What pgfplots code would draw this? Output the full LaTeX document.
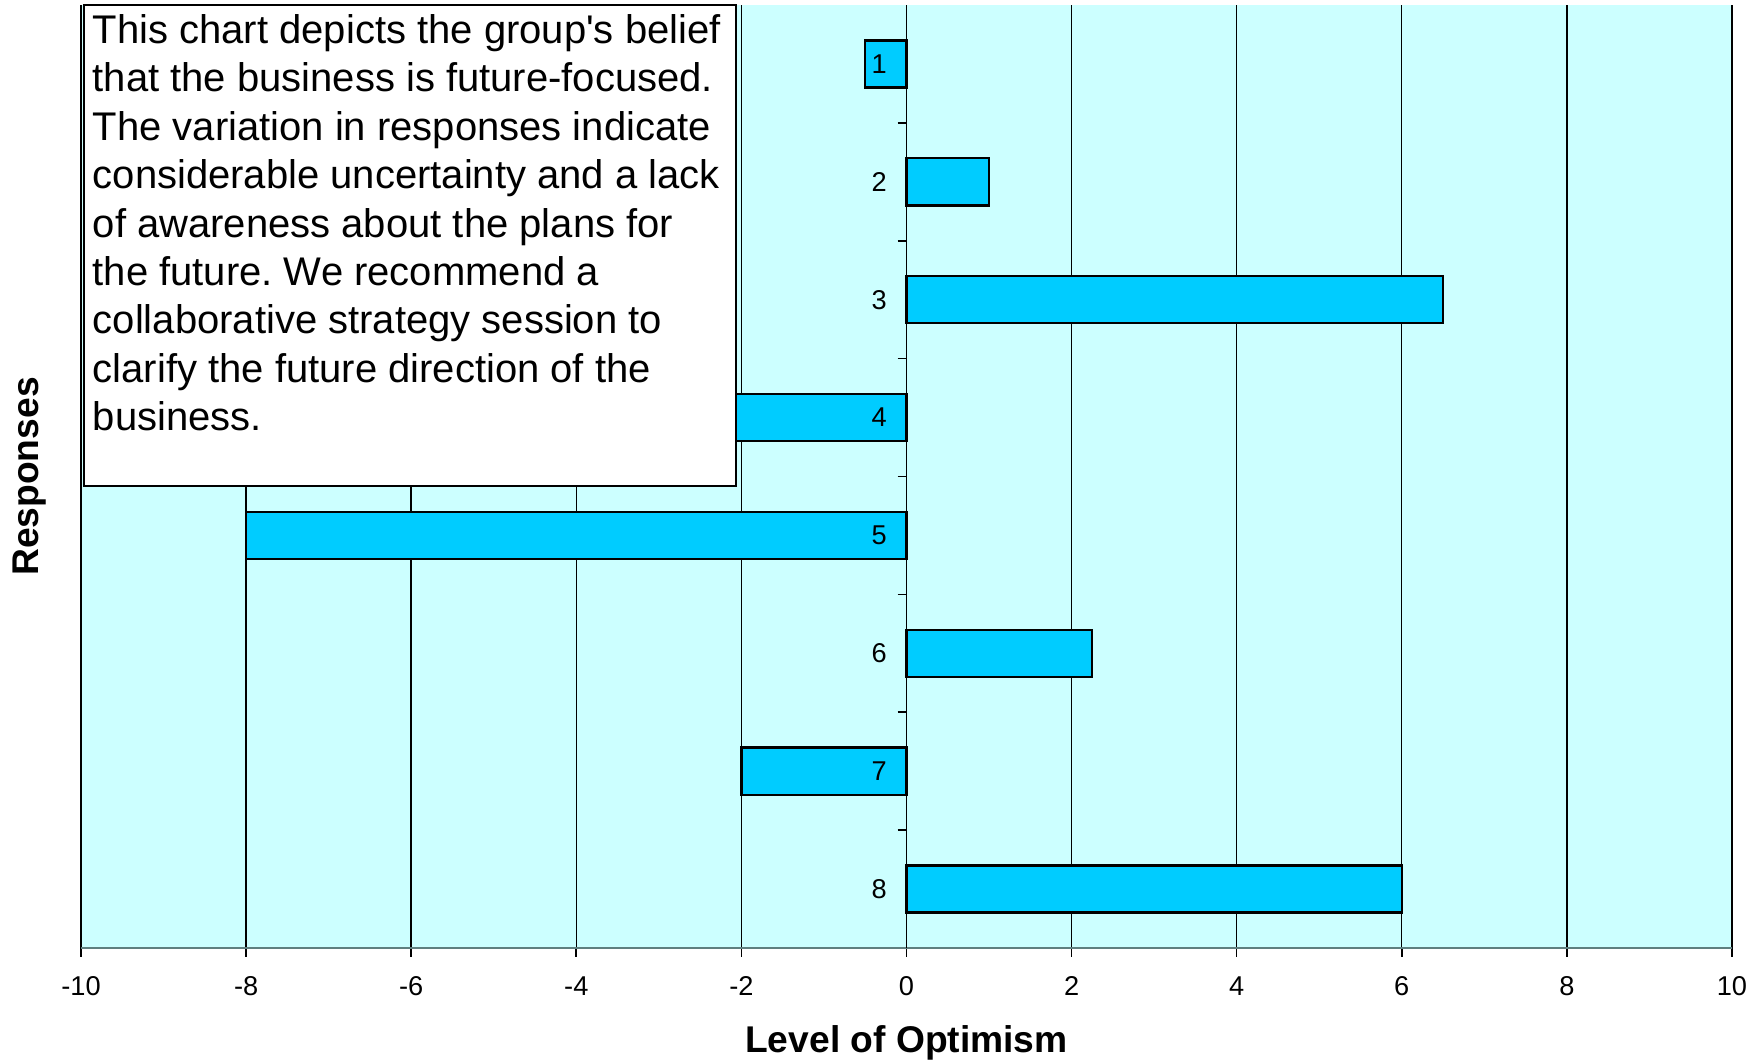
\documentclass[border=0pt]{standalone}
\usepackage{fontspec}
\setmainfont{Liberation Sans}
\usepackage{pgfplots}
\pgfplotsset{compat=1.18}
\definecolor{plotbg}{HTML}{CCFFFF}
\definecolor{barfill}{HTML}{00CCFF}
\definecolor{axisgray}{HTML}{5F7F7F}

% same as the standard layer set, but tick labels go above the bars
\pgfplotsset{
  layers/labelsontop/.define layer set={
    axis background,axis grid,axis ticks,axis lines,
    pre main,main,axis tick labels,axis descriptions,axis foreground
  }{
    grid style={/pgfplots/on layer=axis grid},
    tick style={/pgfplots/on layer=axis ticks},
    axis line style={/pgfplots/on layer=axis lines},
    label style={/pgfplots/on layer=axis descriptions},
    legend style={/pgfplots/on layer=axis descriptions},
    title style={/pgfplots/on layer=axis descriptions},
    colorbar style={/pgfplots/on layer=axis descriptions},
    ticklabel style={/pgfplots/on layer=axis tick labels},
    axis background@ style={/pgfplots/on layer=axis background},
    3d box foreground style={/pgfplots/on layer=axis foreground},
  },
}

\begin{document}
\frenchspacing
\begin{tikzpicture}
\begin{axis}[
  set layers=labelsontop,
  at={(0,0)}, anchor=south west,
  scale only axis, width=412.75pt, height=235.75pt,
  xmin=-10, xmax=10, ymin=0.5, ymax=8.5, y dir=reverse,
  axis x line*=bottom, axis y line*=middle,
  x axis line style={draw=axisgray, line width=0.7pt},
  y axis line style={draw=black, line width=0.4pt},
  hide obscured x ticks=false,
  axis background/.style={fill=plotbg},
  xtick={-10,-8,...,10},
  xticklabels={-10,-8,-6,-4,-2,0,2,4,6,8,10},
  xmajorgrids, grid style={black, line width=0.35pt},
  ytick={1.5,2.5,...,7.5}, yticklabels={},
  extra y ticks={1,2,3,4,5,6,7,8},
  extra y tick labels={1,2,3,4,5,6,7,8},
  extra y tick style={major tick length=0pt},
  tick align=outside, major tick length=2.2pt,
  tick style={black, line width=0.4pt},
  tick label style={font=\fontsize{6.8}{8}\selectfont},
  xticklabel style={yshift=-1.4pt},
  yticklabel style={xshift=-1.4pt},
  xlabel={Level of Optimism},
  ylabel={Responses},
  every axis x label/.style={at={(axis description cs:0.5,0)}, anchor=base,
    yshift=-26.25pt, font=\fontsize{9.3}{11}\selectfont\bfseries},
  every axis y label/.style={at={(axis description cs:0,0.5)}, anchor=center,
    xshift=-12.9pt, rotate=90, font=\fontsize{9.3}{11}\selectfont\bfseries},
  xbar, bar width=0.4,
]
\addplot[fill=barfill, draw=black, line width=0.6pt] coordinates {
  (-0.5,1) (1,2) (6.5,3) (-3,4) (-8,5) (2.25,6) (-2,7) (6,8)
};
\end{axis}
% comment box
\draw[black, line width=0.6pt, fill=white] (0.75pt,115.5pt) rectangle (163.75pt,235.75pt);
\node[anchor=north west, inner sep=0pt, align=left, font=\fontsize{10}{12.1}\selectfont]
  at (2.75pt,233.55pt) {This chart depicts the group\textquotesingle s belief\\
  that the business is future-focused.\\
  The variation in responses indicate\\
  considerable uncertainty and a lack\\
  of awareness about the plans for\\
  the future. We recommend a\\
  collaborative strategy session to\\
  clarify the future direction of the\\
  business.};
\pgfresetboundingbox
\path (-20.25pt,-28pt) rectangle (419.75pt,237pt);
\end{tikzpicture}
\end{document}
